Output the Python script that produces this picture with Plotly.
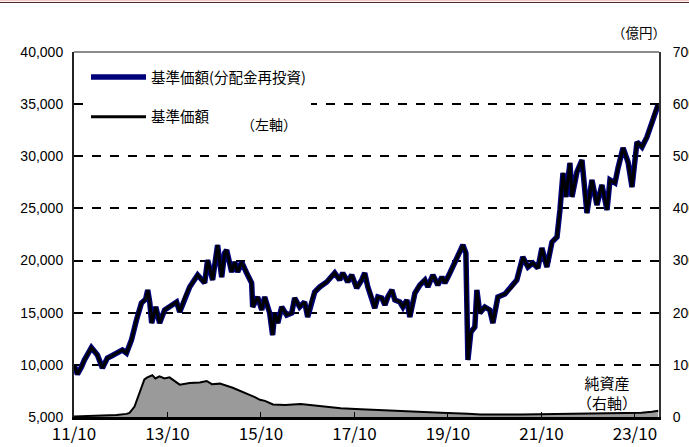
import plotly.graph_objects as go

# ---- data ----
price_dates = [
    "2011-10-04", "2011-10-28", "2011-11-28", "2011-12-21", "2012-02-14", "2012-04-01",
    "2012-05-10", "2012-06-18", "2012-07-27", "2012-08-28", "2012-10-13", "2012-11-14",
    "2012-12-23", "2013-01-31", "2013-03-11", "2013-04-13", "2013-04-29", "2013-05-15",
    "2013-05-30", "2013-07-01", "2013-07-31", "2013-09-08", "2013-10-17", "2013-12-11",
    "2014-01-04", "2014-02-11", "2014-03-23", "2014-05-24", "2014-07-18", "2014-08-10",
    "2014-09-18", "2014-10-27", "2014-11-28", "2014-12-21", "2015-01-06", "2015-02-14",
    "2015-03-10", "2015-04-02", "2015-05-03", "2015-06-11", "2015-07-20", "2015-07-28",
    "2015-09-05", "2015-10-07", "2015-10-30", "2015-12-08", "2015-12-31", "2016-01-16",
    "2016-02-09", "2016-03-11", "2016-04-19", "2016-05-28", "2016-06-20", "2016-07-29",
    "2016-09-06", "2016-09-30", "2016-10-31", "2016-11-24", "2017-01-02", "2017-02-26",
    "2017-04-29", "2017-06-07", "2017-07-01", "2017-08-09", "2017-09-09", "2017-10-18",
    "2017-11-26", "2017-12-20", "2018-01-12", "2018-02-12", "2018-03-08", "2018-04-01",
    "2018-05-02", "2018-05-26", "2018-06-18", "2018-07-20", "2018-08-12", "2018-09-20",
    "2018-10-14", "2018-11-14", "2018-12-07", "2019-01-16", "2019-02-24", "2019-04-04",
    "2019-04-27", "2019-06-05", "2019-07-14", "2019-08-15", "2019-09-07", "2019-10-16",
    "2019-11-09", "2019-12-10", "2020-01-02", "2020-01-26", "2020-02-18", "2020-02-26",
    "2020-03-05", "2020-03-28", "2020-04-28", "2020-05-14", "2020-06-06", "2020-07-15",
    "2020-08-23", "2020-09-16", "2020-10-25", "2020-12-19", "2021-02-11", "2021-03-22",
    "2021-05-08", "2021-06-17", "2021-07-26", "2021-09-03", "2021-10-04", "2021-11-12",
    "2021-12-22", "2022-01-30", "2022-02-22", "2022-03-18", "2022-04-10", "2022-05-11",
    "2022-05-27", "2022-07-05", "2022-08-13", "2022-09-21", "2022-10-30", "2022-12-08",
    "2023-01-16", "2023-02-25", "2023-03-20", "2023-04-28", "2023-05-22", "2023-06-30",
    "2023-08-08", "2023-09-08", "2023-10-17", "2023-11-25", "2024-01-03", "2024-02-11",
    "2024-03-06", "2024-03-29",
]

nav_reinvested = [
    9900, 9100, 9800, 10460, 11650, 10950,
    9700, 10650, 10900, 11130, 11420, 11130,
    12380, 14300, 15930, 16300, 17180, 16000,
    14010, 15550, 14010, 15260, 15550, 16030,
    15070, 16410, 17470, 18620, 17850, 20050,
    18140, 21490, 18420, 20720, 21000, 18900,
    19860, 18900, 19860, 18810, 17850, 15550,
    16510, 15260, 16510, 14970, 12860, 14970,
    14010, 15550, 14780, 14970, 16410, 15550,
    16030, 14590, 16220, 16990, 17470, 17950,
    18810, 18140, 18810, 17950, 18620, 17370,
    18140, 18810, 17500, 16510, 15450, 16510,
    16410, 15740, 16510, 17180, 16220, 16030,
    15550, 16220, 14590, 16890, 17660, 18140,
    17470, 18620, 17660, 18430, 17850, 18810,
    19380, 20240, 20820, 21490, 20720, 13050,
    10460, 13150, 13630, 17180, 14970, 15550,
    15260, 14010, 16510, 16800, 17470, 18140,
    20340, 19380, 19760, 19280, 21200, 19380,
    21780, 22260, 24850, 28400, 26100, 29360,
    26100, 28500, 29640, 24560, 27730, 25330,
    27250, 24850, 27730, 27440, 28880, 30800,
    29450, 27050, 31370, 30890, 31850, 33190,
    34250, 34900,
]

nav = [
    9900, 9100, 9800, 10460, 11650, 10950,
    9700, 10650, 10900, 11130, 11420, 11130,
    12380, 14300, 15930, 16300, 17180, 16000,
    14010, 15550, 14010, 15260, 15550, 16030,
    15070, 16410, 17470, 18620, 17850, 20050,
    18140, 21490, 18420, 20720, 21000, 18900,
    19860, 18900, 19860, 18810, 17850, 15550,
    16510, 15260, 16510, 14970, 12860, 14970,
    14010, 15550, 14780, 14970, 16410, 15550,
    16030, 14590, 16220, 16990, 17470, 17950,
    18810, 18140, 18810, 17950, 18620, 17370,
    18140, 18810, 17500, 16510, 15450, 16510,
    16410, 15740, 16510, 17180, 16220, 16030,
    15550, 16220, 14590, 16890, 17660, 18140,
    17470, 18620, 17660, 18430, 17850, 18810,
    19380, 20240, 20820, 21490, 20720, 13050,
    10460, 13150, 13630, 17180, 14970, 15550,
    15260, 14010, 16510, 16800, 17470, 18140,
    20340, 19380, 19760, 19280, 21200, 19380,
    21780, 22260, 24850, 28400, 26100, 29360,
    26100, 28500, 29640, 24560, 27730, 25330,
    27250, 24850, 27730, 27440, 28880, 30800,
    29450, 27050, 31370, 30890, 31850, 33190,
    34250, 34900,
]

asset_dates = [
    "2011-10-01", "2012-04-17", "2012-08-28", "2012-11-14", "2012-12-08", "2013-01-16",
    "2013-02-24", "2013-04-03", "2013-04-26", "2013-06-04", "2013-06-28", "2013-07-30",
    "2013-09-07", "2013-10-16", "2014-01-04", "2014-03-23", "2014-06-09", "2014-08-03",
    "2014-09-12", "2014-11-14", "2015-02-22", "2015-05-27", "2015-08-14", "2015-09-23",
    "2015-11-01", "2016-01-03", "2016-04-07", "2016-08-06", "2017-01-10", "2017-06-15",
    "2017-11-20", "2018-04-26", "2018-11-14", "2019-08-07", "2020-03-05", "2020-06-13",
    "2021-04-24", "2022-03-04", "2023-01-12", "2023-11-21", "2024-02-11", "2024-03-31",
]
net_assets = [
    1, 2, 4, 6, 8, 20,
    45, 72, 76, 80, 74, 78,
    74, 76, 62, 65, 66, 69,
    63, 64, 56, 47, 38, 33,
    31, 24, 23, 25, 21, 17,
    15, 13, 11, 8, 6, 5,
    5, 6, 7, 8, 10, 12,
]

x_tickvals = ["2011-10-01", "2013-10-01", "2015-10-01", "2017-10-01",
              "2019-10-01", "2021-10-01", "2023-10-01"]
x_ticktext = ["11/10", "13/10", "15/10", "17/10", "19/10", "21/10", "23/10"]
y_left_ticks = [5000, 10000, 15000, 20000, 25000, 30000, 35000, 40000]
y_right_ticks = [0, 100, 200, 300, 400, 500, 600, 700]

# ---- layout constants ----
W, H = 689, 447
ML, MR, MT, MB = 74, 30, 52, 30
PW, PH = W - ML - MR, H - MT - MB

def px_x(px):
    return (px - ML) / PW

def px_y(py):
    return 1 - (py - MT) / PH

JP = "Noto Sans CJK JP"
NUM = "Liberation Sans"

fig = go.Figure()

fig.add_trace(go.Scatter(
    x=asset_dates, y=net_assets, yaxis="y2", mode="lines",
    line=dict(color="black", width=2), fill="tozeroy", fillcolor="#9a9a9a",
    showlegend=False, name="純資産",
))
fig.add_trace(go.Scatter(
    x=price_dates, y=nav_reinvested, mode="lines",
    line=dict(color="#00007a", width=5.5), name="基準価額(分配金再投資)",
    legendgroup="a",
))
fig.add_trace(go.Scatter(
    x=price_dates, y=nav, mode="lines",
    line=dict(color="black", width=3), name="基準価額",
    legendgroup="b",
))

fig.update_layout(
    width=W, height=H,
    margin=dict(l=ML, r=MR, t=MT, b=MB, autoexpand=False),
    paper_bgcolor="white", plot_bgcolor="white",
    font=dict(family=JP, size=14, color="black"),
    xaxis=dict(
        type="date", range=["2011-10-01", "2024-04-06"],
        tickvals=x_tickvals, ticktext=x_ticktext,
        ticks="inside", ticklen=5, tickwidth=1, tickcolor="black",
        showgrid=False, zeroline=False, automargin=False,
        showline=True, linecolor="black", linewidth=3,
        tickfont=dict(family=JP, size=17, color="black"),
    ),
    yaxis=dict(
        range=[5000, 40000], tickvals=y_left_ticks,
        tickformat=",d", automargin=False,
        ticks="inside", ticklen=5, tickwidth=2, tickcolor="black",
        showgrid=True, gridcolor="black", gridwidth=2, griddash="dash",
        zeroline=False,
        showline=True, linecolor="#222222", linewidth=2,
        ticklabelstandoff=6,
        tickfont=dict(family=NUM, size=14, color="black"),
    ),
    yaxis2=dict(
        range=[0, 700], tickvals=y_right_ticks,
        overlaying="y", side="right", automargin=False,
        ticks="inside", ticklen=5, tickwidth=1, tickcolor="black",
        showgrid=False, zeroline=False,
        showline=True, linecolor="#333333", linewidth=2,
        ticklabelstandoff=9,
        tickfont=dict(family=NUM, size=14, color="black"),
    ),
    legend=dict(
        x=px_x(86), y=px_y(61), xanchor="left", yanchor="top",
        bgcolor="white", borderwidth=0,
        traceorder="grouped", tracegroupgap=18,
        itemwidth=55,
        font=dict(family=JP, size=14.5, color="black"),
    ),
    showlegend=True,
)

# top plot frame (grey) and page top rule
fig.add_shape(type="line", xref="paper", yref="paper", x0=0, x1=1, y0=1, y1=1,
              line=dict(color="#8c8c8c", width=2), layer="above")
fig.add_shape(type="line", xref="paper", yref="paper",
              x0=px_x(0), x1=px_x(W), y0=px_y(0.5), y1=px_y(0.5),
              line=dict(color="#f3c9c9", width=1.5), layer="above")
fig.add_shape(type="line", xref="paper", yref="paper",
              x0=px_x(0), x1=px_x(W), y0=px_y(2.5), y1=px_y(2.5),
              line=dict(color="#4a2a2a", width=1.2), layer="above")

fig.add_annotation(text="（億円）", xref="paper", yref="paper",
                   x=px_x(639), y=px_y(32), showarrow=False,
                   xanchor="center", yanchor="middle",
                   font=dict(family=JP, size=13.5))
fig.add_annotation(text="（左軸）", xref="paper", yref="paper",
                   x=px_x(269), y=px_y(124), showarrow=False,
                   xanchor="center", yanchor="middle",
                   font=dict(family=JP, size=14))
fig.add_annotation(text="純資産<br>（右軸）", xref="paper", yref="paper",
                   x=px_x(607), y=px_y(392), showarrow=False,
                   xanchor="center", yanchor="middle",
                   font=dict(family=JP, size=15), align="center")

fig.write_html("out.html", config={"displayModeBar": False},
               post_script="document.body.style.margin='0px';")
